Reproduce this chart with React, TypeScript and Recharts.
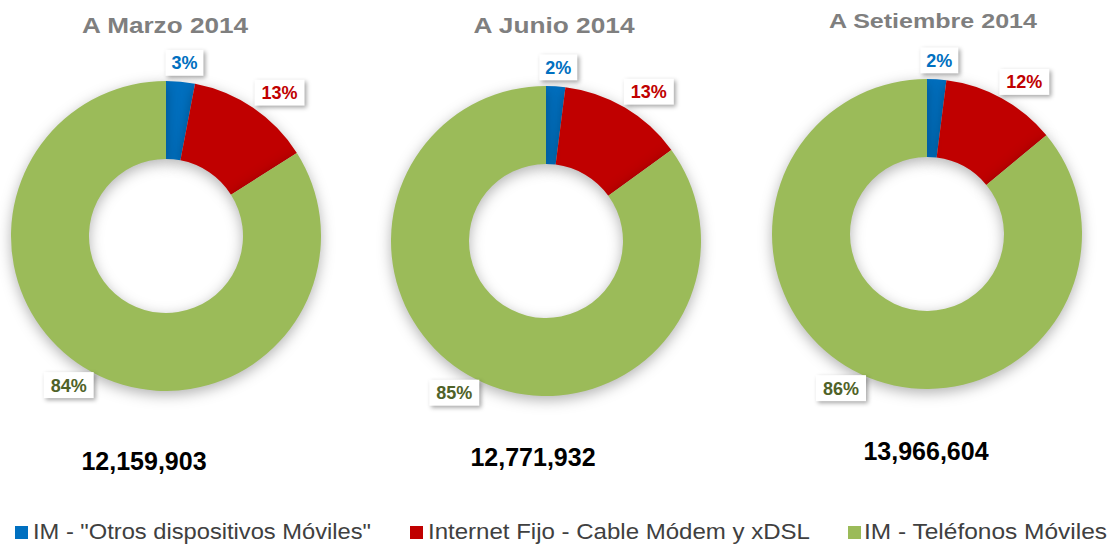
import { PieChart, Pie, Cell, Legend } from 'recharts';

const series = [
    'IM - "Otros dispositivos Móviles"',
    'Internet Fijo - Cable Módem y xDSL',
    'IM - Teléfonos Móviles'
];
const colors = ['#0070C0', '#C00000', '#9BBB59'];
const labelColors = ['#0070C0', '#C00000', '#4F6228'];

const periods = ['A Marzo 2014', 'A Junio 2014', 'A Setiembre 2014'];
const totals = ['12,159,903', '12,771,932', '13,966,604'];

const marzo = [3, 13, 84];
const junio = [2, 13, 85];
const setiembre = [2, 12, 86];

const FONT = '"Liberation Sans", Arial, sans-serif';
const RAD = Math.PI / 180;

// layout of each donut: centre, title and total text positions
const donuts = [
    { values: marzo, cx: 166, cy: 236, title: [165, 33, 166], total: [144, 470], titleSize: 22 },
    { values: junio, cx: 546, cy: 241, title: [554, 33, 161], total: [533, 466], titleSize: 22 },
    { values: setiembre, cx: 927, cy: 234, title: [933, 28, 208], total: [926, 460], titleSize: 21 }
];

// legend item layout: square x, text x, text width
const legendLayout = [
    [15, 33, 338],
    [410, 428, 382],
    [848, 864, 243]
];

const renderLabel = (props: any) => {
    const { cx, cy, midAngle, outerRadius, value, index } = props;
    const text = `${value}%`;
    const w = 14 + text.length * 12;
    const h = 26;
    const cos = Math.cos(-midAngle * RAD);
    const sin = Math.sin(-midAngle * RAD);
    const r = outerRadius + 22;
    const x = cx + r * cos + cos * w / 2;
    const y = cy + r * sin + (sin > 0 ? -6 : 3);
    return (
        <g key={`lbl-${index}`}>
            <rect x={x - w / 2} y={y - h / 2} width={w} height={h} fill="#fff"
                style={{ filter: 'drop-shadow(2px 2px 2px rgba(0,0,0,0.35))' }} />
            <text x={x} y={y + 6.5} textAnchor="middle" fontFamily={FONT} fontWeight="bold"
                fontSize={18} fill={labelColors[index]}>{text}</text>
        </g>
    );
};

const LegendContent = () => (
    <svg width={1111} height={30} style={{ display: 'block' }}>
        {series.map((s, i) => (
            <g key={s}>
                <rect x={legendLayout[i][0]} y={11} width={13} height={13} fill={colors[i]} />
                <text x={legendLayout[i][1]} y={24} fontFamily={FONT} fontSize={22} fill="#404040"
                    textLength={legendLayout[i][2]} lengthAdjust="spacingAndGlyphs">{s}</text>
            </g>
        ))}
    </svg>
);

export default function App() {
    return (
        <div style={{ position: 'absolute', left: 0, top: 0, width: 1111, height: 545, background: '#fff' }}>
            <style>{`.recharts-pie-sector { filter: drop-shadow(0px 4px 7px rgba(0,0,0,0.3)); }`}</style>
            <PieChart width={1111} height={545} margin={{ top: 0, right: 0, bottom: 0, left: 0 }}>
                {donuts.map((d, di) => (
                    <Pie
                        key={periods[di]}
                        data={d.values.map((v, i) => ({ name: series[i], value: v }))}
                        dataKey="value"
                        cx={d.cx}
                        cy={d.cy}
                        innerRadius={77}
                        outerRadius={155}
                        startAngle={90}
                        endAngle={-270}
                        stroke="none"
                        label={renderLabel}
                        labelLine={false}
                        isAnimationActive={false}
                    >
                        {d.values.map((_, i) => (
                            <Cell key={`cell-${i}`} fill={colors[i]} />
                        ))}
                    </Pie>
                ))}
                {donuts.map((d, di) => (
                    <g key={`txt-${di}`}>
                        <text x={d.title[0]} y={d.title[1]} textAnchor="middle" fontFamily={FONT}
                            fontWeight="bold" fontSize={d.titleSize} fill="#7F7F7F"
                            textLength={d.title[2]} lengthAdjust="spacingAndGlyphs">{periods[di]}</text>
                        <text x={d.total[0]} y={d.total[1]} textAnchor="middle" fontFamily={FONT}
                            fontWeight="bold" fontSize={25} fill="#000">{totals[di]}</text>
                    </g>
                ))}
                <Legend content={<LegendContent />} verticalAlign="bottom"
                    wrapperStyle={{ left: 0, bottom: 0, width: 1111, height: 30 }} />
            </PieChart>
        </div>
    );
}
